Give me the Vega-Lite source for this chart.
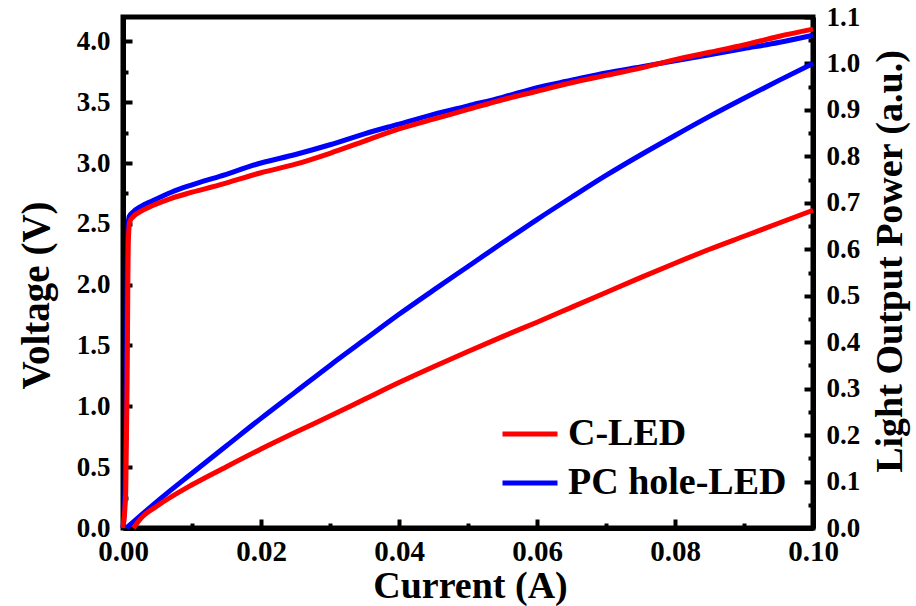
{
  "$schema": "https://vega.github.io/schema/vega-lite/v6.json",
  "width": 690,
  "height": 511,
  "autosize": {"type": "none"},
  "padding": {"left": 123, "top": 17, "right": 103, "bottom": 78},
  "background": "white",
  "config": {
    "view": {"stroke": "black", "strokeWidth": 5},
    "font": "Liberation Serif",
    "axis": {
      "grid": false,
      "domainColor": "black",
      "domainWidth": 5,
      "tickColor": "black",
      "tickWidth": 4,
      "labelFont": "Liberation Serif",
      "labelFontWeight": "bold",
      "labelColor": "black",
      "titleFont": "Liberation Serif",
      "titleFontWeight": "bold",
      "titleColor": "black",
      "labelOverlap": false,
      "labelFlush": false
    }
  },
  "datasets": {
    "voltage": [
      {"I": 0.0, "V": 0.0, "s": "PC hole-LED"},
      {"I": 0.0003, "V": 0.3, "s": "PC hole-LED"},
      {"I": 0.0005, "V": 1.2, "s": "PC hole-LED"},
      {"I": 0.0006, "V": 2.0, "s": "PC hole-LED"},
      {"I": 0.0007, "V": 2.45, "s": "PC hole-LED"},
      {"I": 0.0009, "V": 2.56, "s": "PC hole-LED"},
      {"I": 0.0015, "V": 2.6, "s": "PC hole-LED"},
      {"I": 0.0025, "V": 2.64, "s": "PC hole-LED"},
      {"I": 0.0043, "V": 2.69, "s": "PC hole-LED"},
      {"I": 0.007, "V": 2.76, "s": "PC hole-LED"},
      {"I": 0.01, "V": 2.82, "s": "PC hole-LED"},
      {"I": 0.014, "V": 2.89, "s": "PC hole-LED"},
      {"I": 0.02, "V": 3.0, "s": "PC hole-LED"},
      {"I": 0.025, "V": 3.07, "s": "PC hole-LED"},
      {"I": 0.03, "V": 3.15, "s": "PC hole-LED"},
      {"I": 0.035, "V": 3.24, "s": "PC hole-LED"},
      {"I": 0.04, "V": 3.32, "s": "PC hole-LED"},
      {"I": 0.045, "V": 3.4, "s": "PC hole-LED"},
      {"I": 0.05, "V": 3.47, "s": "PC hole-LED"},
      {"I": 0.055, "V": 3.54, "s": "PC hole-LED"},
      {"I": 0.06, "V": 3.62, "s": "PC hole-LED"},
      {"I": 0.065, "V": 3.68, "s": "PC hole-LED"},
      {"I": 0.07, "V": 3.74, "s": "PC hole-LED"},
      {"I": 0.075, "V": 3.79, "s": "PC hole-LED"},
      {"I": 0.08, "V": 3.84, "s": "PC hole-LED"},
      {"I": 0.085, "V": 3.89, "s": "PC hole-LED"},
      {"I": 0.09, "V": 3.94, "s": "PC hole-LED"},
      {"I": 0.095, "V": 3.99, "s": "PC hole-LED"},
      {"I": 0.1, "V": 4.05, "s": "PC hole-LED"},
      {"I": 0.0, "V": 0.0, "s": "C-LED"},
      {"I": 0.0004, "V": 0.3, "s": "C-LED"},
      {"I": 0.0006, "V": 1.2, "s": "C-LED"},
      {"I": 0.0007, "V": 2.0, "s": "C-LED"},
      {"I": 0.0008, "V": 2.4, "s": "C-LED"},
      {"I": 0.001, "V": 2.52, "s": "C-LED"},
      {"I": 0.0015, "V": 2.56, "s": "C-LED"},
      {"I": 0.0025, "V": 2.6, "s": "C-LED"},
      {"I": 0.0043, "V": 2.65, "s": "C-LED"},
      {"I": 0.007, "V": 2.71, "s": "C-LED"},
      {"I": 0.01, "V": 2.76, "s": "C-LED"},
      {"I": 0.014, "V": 2.82, "s": "C-LED"},
      {"I": 0.02, "V": 2.92, "s": "C-LED"},
      {"I": 0.025, "V": 2.99, "s": "C-LED"},
      {"I": 0.03, "V": 3.08, "s": "C-LED"},
      {"I": 0.035, "V": 3.18, "s": "C-LED"},
      {"I": 0.04, "V": 3.28, "s": "C-LED"},
      {"I": 0.045, "V": 3.36, "s": "C-LED"},
      {"I": 0.05, "V": 3.44, "s": "C-LED"},
      {"I": 0.055, "V": 3.52, "s": "C-LED"},
      {"I": 0.06, "V": 3.59, "s": "C-LED"},
      {"I": 0.065, "V": 3.66, "s": "C-LED"},
      {"I": 0.07, "V": 3.72, "s": "C-LED"},
      {"I": 0.075, "V": 3.78, "s": "C-LED"},
      {"I": 0.08, "V": 3.85, "s": "C-LED"},
      {"I": 0.085, "V": 3.91, "s": "C-LED"},
      {"I": 0.09, "V": 3.97, "s": "C-LED"},
      {"I": 0.095, "V": 4.04, "s": "C-LED"},
      {"I": 0.1, "V": 4.1, "s": "C-LED"}
    ],
    "power": [
      {"I": 0.0005, "P": 0.0, "s": "PC hole-LED"},
      {"I": 0.005, "P": 0.058, "s": "PC hole-LED"},
      {"I": 0.01, "P": 0.118, "s": "PC hole-LED"},
      {"I": 0.015, "P": 0.177, "s": "PC hole-LED"},
      {"I": 0.02, "P": 0.236, "s": "PC hole-LED"},
      {"I": 0.025, "P": 0.293, "s": "PC hole-LED"},
      {"I": 0.03, "P": 0.35, "s": "PC hole-LED"},
      {"I": 0.035, "P": 0.405, "s": "PC hole-LED"},
      {"I": 0.04, "P": 0.46, "s": "PC hole-LED"},
      {"I": 0.045, "P": 0.512, "s": "PC hole-LED"},
      {"I": 0.05, "P": 0.563, "s": "PC hole-LED"},
      {"I": 0.055, "P": 0.614, "s": "PC hole-LED"},
      {"I": 0.06, "P": 0.664, "s": "PC hole-LED"},
      {"I": 0.065, "P": 0.712, "s": "PC hole-LED"},
      {"I": 0.07, "P": 0.759, "s": "PC hole-LED"},
      {"I": 0.075, "P": 0.803, "s": "PC hole-LED"},
      {"I": 0.08, "P": 0.845, "s": "PC hole-LED"},
      {"I": 0.085, "P": 0.886, "s": "PC hole-LED"},
      {"I": 0.09, "P": 0.925, "s": "PC hole-LED"},
      {"I": 0.095, "P": 0.963, "s": "PC hole-LED"},
      {"I": 0.1, "P": 1.0, "s": "PC hole-LED"},
      {"I": 0.0015, "P": 0.0, "s": "C-LED"},
      {"I": 0.0028, "P": 0.024, "s": "C-LED"},
      {"I": 0.005, "P": 0.048, "s": "C-LED"},
      {"I": 0.01, "P": 0.093, "s": "C-LED"},
      {"I": 0.015, "P": 0.132, "s": "C-LED"},
      {"I": 0.02, "P": 0.17, "s": "C-LED"},
      {"I": 0.025, "P": 0.206, "s": "C-LED"},
      {"I": 0.03, "P": 0.241, "s": "C-LED"},
      {"I": 0.035, "P": 0.277, "s": "C-LED"},
      {"I": 0.04, "P": 0.313, "s": "C-LED"},
      {"I": 0.045, "P": 0.347, "s": "C-LED"},
      {"I": 0.05, "P": 0.38, "s": "C-LED"},
      {"I": 0.055, "P": 0.412, "s": "C-LED"},
      {"I": 0.06, "P": 0.443, "s": "C-LED"},
      {"I": 0.065, "P": 0.475, "s": "C-LED"},
      {"I": 0.07, "P": 0.507, "s": "C-LED"},
      {"I": 0.075, "P": 0.539, "s": "C-LED"},
      {"I": 0.08, "P": 0.57, "s": "C-LED"},
      {"I": 0.085, "P": 0.6, "s": "C-LED"},
      {"I": 0.09, "P": 0.628, "s": "C-LED"},
      {"I": 0.095, "P": 0.656, "s": "C-LED"},
      {"I": 0.1, "P": 0.684, "s": "C-LED"}
    ]
  },
  "layer": [
    {
      "data": {"name": "voltage"},
      "mark": {"type": "line", "strokeWidth": 5, "interpolate": "monotone"},
      "encoding": {
        "x": {
          "field": "I", "type": "quantitative",
          "scale": {"domain": [0, 0.1], "nice": false, "zero": false},
          "axis": {
            "orient": "bottom",
            "values": [0, 0.02, 0.04, 0.06, 0.08, 0.1],
            "format": ".2f",
            "tickSize": -9,
            "labelFontSize": 29,
            "labelPadding": 18,
            "title": "Current (A)",
            "titleFontSize": 38,
            "titleX": 347,
            "titleY": 69,
            "titleBaseline": "alphabetic",
            "titleAlign": "center"
          }
        },
        "y": {
          "field": "V", "type": "quantitative",
          "scale": {"domain": [0, 4.2], "nice": false, "zero": false},
          "axis": {
            "orient": "left",
            "values": [0, 0.5, 1, 1.5, 2, 2.5, 3, 3.5, 4],
            "format": ".1f",
            "tickSize": -9,
            "labelFontSize": 27,
            "labelPadding": 22,
            "title": "Voltage (V)",
            "titleFontSize": 39,
            "titleAngle": -90,
            "titleX": -87,
            "titleY": 278,
            "titleBaseline": "middle",
            "titleAlign": "center"
          }
        },
        "color": {
          "field": "s", "type": "nominal",
          "scale": {"domain": ["C-LED", "PC hole-LED"], "range": ["#ff0000", "#0000ff"]},
          "legend": {
            "orient": "none",
            "legendX": 377,
            "legendY": 387,
            "title": null,
            "padding": 0,
            "symbolType": "stroke",
            "symbolSize": 3025,
            "symbolStrokeWidth": 5,
            "labelFont": "Liberation Serif",
            "labelFontSize": 38,
            "labelFontWeight": "bold",
            "labelColor": "black",
            "labelLimit": 500,
            "labelOffset": 8,
            "rowPadding": -6
          }
        }
      }
    },
    {
      "data": {"name": "power"},
      "mark": {"type": "line", "strokeWidth": 5, "interpolate": "monotone"},
      "encoding": {
        "x": {
          "field": "I", "type": "quantitative",
          "scale": {"domain": [0, 0.1], "nice": false, "zero": false},
          "axis": null
        },
        "y": {
          "field": "P", "type": "quantitative",
          "scale": {"domain": [0, 1.1], "nice": false, "zero": false},
          "axis": {
            "orient": "right",
            "values": [0, 0.1, 0.2, 0.3, 0.4, 0.5, 0.6, 0.7, 0.8, 0.9, 1.0, 1.1],
            "format": ".1f",
            "tickSize": -9,
            "labelFontSize": 27,
            "labelPadding": 22,
            "title": "Light Output Power (a.u.)",
            "titleFontSize": 38,
            "titleAngle": -90,
            "titleX": 77,
            "titleY": 244,
            "titleBaseline": "middle",
            "titleAlign": "center"
          }
        },
        "color": {"field": "s", "type": "nominal"}
      }
    },
    {
      "data": {"name": "voltage"},
      "mark": {"type": "point", "opacity": 0},
      "encoding": {
        "x": {
          "field": "I", "type": "quantitative",
          "scale": {"domain": [0, 0.1], "nice": false, "zero": false},
          "axis": {
            "orient": "bottom",
            "values": [0.01, 0.03, 0.05, 0.07, 0.09],
            "labels": false,
            "domain": false,
            "tickSize": -5,
            "title": null
          }
        },
        "y": {
          "field": "V", "type": "quantitative",
          "scale": {"domain": [0, 4.2], "nice": false, "zero": false},
          "axis": {
            "orient": "left",
            "values": [0.25, 0.75, 1.25, 1.75, 2.25, 2.75, 3.25, 3.75],
            "labels": false,
            "domain": false,
            "tickSize": -5,
            "title": null
          }
        }
      }
    },
    {
      "data": {"name": "power"},
      "mark": {"type": "point", "opacity": 0},
      "encoding": {
        "x": {
          "field": "I", "type": "quantitative",
          "scale": {"domain": [0, 0.1], "nice": false, "zero": false},
          "axis": null
        },
        "y": {
          "field": "P", "type": "quantitative",
          "scale": {"domain": [0, 1.1], "nice": false, "zero": false},
          "axis": {
            "orient": "right",
            "values": [0.05, 0.15, 0.25, 0.35, 0.45, 0.55, 0.65, 0.75, 0.85, 0.95, 1.05],
            "labels": false,
            "domain": false,
            "tickSize": -5,
            "title": null
          }
        }
      }
    }
  ],
  "resolve": {"scale": {"x": "independent", "y": "independent"}}
}
